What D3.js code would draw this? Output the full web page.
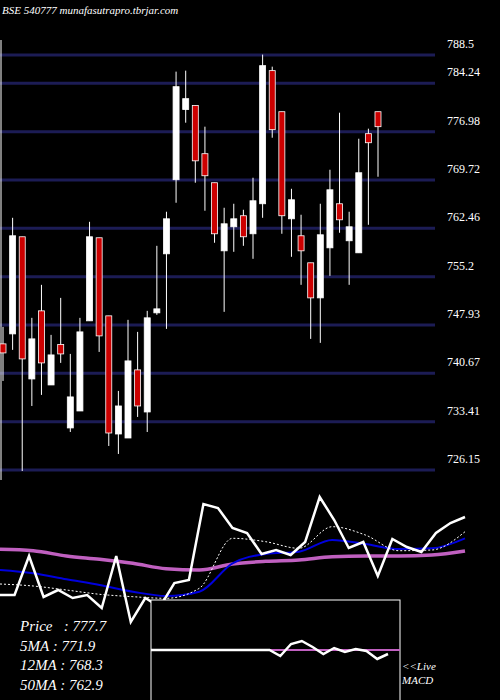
<!DOCTYPE html>
<html><head><meta charset="utf-8">
<script src="https://cdn.jsdelivr.net/npm/d3@7"></script>
<style>body{margin:0;background:#000}svg{display:block}</style></head>
<body><svg id="c" width="500" height="700"></svg>
<script>
const open  =[745.1,746.6,761.19,739.83,750.06,738.93,745.0,732.47,735.02,748.56,761.04,749.31,731.56,730.96,741.19,734.87,749.76,758.63,769.76,780.3,780.9,773.67,769.31,759.08,762.69,764.35,761.64,766.15,786.15,779.98,763.89,761.34,757.28,752.01,759.53,766.15,760.59,758.78,776.68,779.98];
const high  =[747.65,764.04,761.19,749.01,753.97,746.45,752.01,743.59,749.01,763.44,761.04,749.31,738.03,748.71,746.9,750.06,759.83,764.95,786.0,786.15,780.9,777.73,769.31,765.55,766.15,765.25,770.06,788.56,786.75,779.98,768.4,764.5,757.28,766.15,771.26,779.83,764.95,775.92,777.43,779.98];
const low   =[739.53,744.2,726.0,735.77,737.43,738.93,742.24,731.86,735.02,748.56,743.89,729.76,728.56,730.96,734.12,731.86,749.46,747.35,766.3,778.33,769.31,765.1,760.29,749.91,758.93,759.83,757.88,764.04,776.07,761.64,758.18,753.97,745.85,745.25,755.32,761.79,753.97,758.78,762.99,770.21];
const close =[743.74,761.34,742.84,745.85,742.24,743.44,743.59,737.13,746.9,761.19,746.3,731.71,735.77,742.54,735.77,749.01,750.36,763.89,783.74,781.94,772.6,770.36,761.64,763.14,763.89,761.19,766.6,786.9,777.28,764.35,766.75,759.08,752.01,761.49,768.25,763.74,762.69,770.81,775.32,777.73];
const priceTicks=[788.5,784.24,776.98,769.72,762.46,755.2,747.93,740.67,733.41,726.15];
const priceLine=[105,105,144,103,110,102,105,92,144,78,102,93,117,120,196,192,172,167,146,150,145,158,203,180,152,158,124,161,153,148,167,177,183];
const ma5 =[116,114,110,105.7,103.3,101.7,111.7,161.7,158.3,151.7,173.3,165,149.3,150,168.3];
const ma12=[130,126.7,120.7,115,108.3,104,108.3,136.7,146,148.3,160,156,151,151.7,161.7];
const ma50=[150.7,149.3,144,140.7,136.7,131.3,130,136,138.7,140,143.3,144,144,145,149];
const macd=[0,0,0,0,0,0,0,0,0,0,0,0,-6,6,9,3,-4,2,-2,1,-1,-9,-4];
const legend=["Price   : 777.7","5MA : 771.9","12MA : 768.3","50MA : 762.9"];

const svg=d3.select("#c");
svg.append("rect").attr("width",500).attr("height",700).attr("fill","#000");
const y=d3.scaleLinear().domain([726.15,788.5]).range([470,55]);
const x=d3.scaleLinear().domain([0,open.length-1]).range([3,378]);
svg.selectAll(".g").data(priceTicks).enter().append("line")
 .attr("x1",0).attr("x2",435).attr("y1",d=>y(d)).attr("y2",d=>y(d))
 .attr("stroke","#1c1c55").attr("stroke-width",3);
svg.selectAll(".t").data(priceTicks).enter().append("text")
 .attr("x",447).attr("y",d=>y(d)-7).text(d=>d)
 .attr("fill","#fff").attr("font-family","Liberation Serif").attr("font-size",12);
svg.append("line").attr("x1",1).attr("x2",1).attr("y1",40).attr("y2",480).attr("stroke","#fff").attr("stroke-width",1);
svg.append("text").attr("x",2).attr("y",14).text("BSE 540777 munafasutrapro.tbrjar.com")
 .attr("fill","#fff").attr("font-family","Liberation Serif").attr("font-style","italic").attr("font-size",11);
const idx=d3.range(open.length);
svg.selectAll(".w").data(idx).enter().append("line")
 .attr("x1",i=>x(i)).attr("x2",i=>x(i)).attr("y1",i=>y(high[i])).attr("y2",i=>y(low[i]))
 .attr("stroke","#fff").attr("stroke-width",1);
svg.selectAll(".b").data(idx).enter().append("rect")
 .attr("x",i=>x(i)-3).attr("width",6)
 .attr("y",i=>y(Math.max(open[i],close[i])))
 .attr("height",i=>Math.max(1.5,Math.abs(y(open[i])-y(close[i]))))
 .attr("fill",i=>close[i]<open[i]?"#cc0000":"#fff")
 .attr("stroke","#fff").attr("stroke-width",0.8);

const yl=d3.scaleLinear().domain([0,220]).range([700,480]);
function line(arr,x1,stroke,w,dash){
 const xs=d3.scaleLinear().domain([0,arr.length-1]).range([0,x1]);
 svg.append("path").attr("d",d3.line().x((d,i)=>xs(i)).y(d=>yl(d)).curve(d3.curveMonotoneX)(arr))
  .attr("fill","none").attr("stroke",stroke).attr("stroke-width",w).attr("stroke-dasharray",dash||null);
}
line(ma50,465,"#c060c0",3.5);
line(ma12,465,"#0000dd",2);
line(ma5,465,"#fff",1,"2,2");
{const xs=d3.scaleLinear().domain([0,priceLine.length-1]).range([0,465]);
 svg.append("path").attr("d",d3.line().x((d,i)=>xs(i)).y(d=>yl(d))(priceLine))
 .attr("fill","none").attr("stroke","#fff").attr("stroke-width",2.5);}
svg.append("rect").attr("x",151).attr("y",600).attr("width",249).attr("height",105)
 .attr("fill","#000").attr("stroke","#fff").attr("stroke-width",1);
svg.append("line").attr("x1",151).attr("x2",400).attr("y1",650).attr("y2",650).attr("stroke","#c060c0").attr("stroke-width",2);
{const xm=d3.scaleLinear().domain([0,macd.length-1]).range([151,388]);
 const ym=d3.scaleLinear().domain([0,10]).range([650,640]);
 svg.append("path").attr("d",d3.line().x((d,i)=>xm(i)).y(d=>ym(d))(macd))
  .attr("fill","none").attr("stroke","#fff").attr("stroke-width",2.5);}
svg.selectAll(".l").data(legend).enter().append("text")
 .attr("x",20).attr("y",(d,i)=>631+i*19.5).text(d=>d).attr("xml:space","preserve")
 .attr("fill","#fff").attr("font-family","Liberation Serif").attr("font-style","italic").attr("font-size",15);
svg.append("text").attr("x",402).attr("y",670).text("<<Live").attr("fill","#fff").attr("font-family","Liberation Serif").attr("font-style","italic").attr("font-size",11);
svg.append("text").attr("x",402).attr("y",684).text("MACD").attr("fill","#fff").attr("font-family","Liberation Serif").attr("font-style","italic").attr("font-size",11);
</script></body></html>
